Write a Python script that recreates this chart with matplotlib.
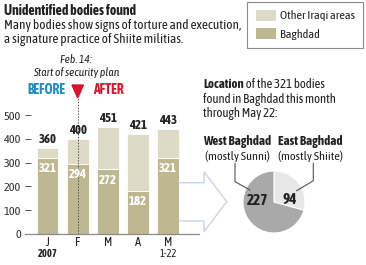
import matplotlib
matplotlib.use("Agg")
import matplotlib.pyplot as plt
from matplotlib.patches import Rectangle, Polygon
from matplotlib.lines import Line2D

plt.rcParams['font.family'] = ['Asap Condensed', 'DejaVu Sans']

# ---- data ----
months = ['J', 'F', 'M', 'A', 'M']
month_sub = ['2007', '', '', '', '1-22']
totals = [360, 400, 451, 421, 443]
baghdad = [321, 294, 272, 182, 321]
other = [t - b for t, b in zip(totals, baghdad)]
pie_labels = ['East Baghdad', 'West Baghdad']
pie_values = [94, 227]

C_BAG = '#bdb890'
C_OTH = '#dddac5'
C_PIE_DARK = '#a9a9a9'
C_PIE_LIGHT = '#e7e7e7'
C_TXT = '#222222'
C_BLUE = '#1b8dc4'
C_RED = '#d7152e'

W, H = 366, 265
fig = plt.figure(figsize=(W / 100, H / 100), dpi=100)


def fx(x):
    return x / W


def fy(y):
    return 1 - y / H


def ftext(x, y, s, **kw):
    kw.setdefault('color', C_TXT)
    kw.setdefault('va', 'center')
    return fig.text(fx(x), fy(y), s, **kw)


# ---- bar axes ----
px_per_unit = 23.8 / 100.0
y0_px = 234.0
ytop = 580
left_px, right_px = 25.0, 198.7
ax = fig.add_axes([fx(left_px), fy(y0_px), (right_px - left_px) / W,
                   ytop * px_per_unit / H])
ax.set_xlim(-0.75, 5.02)
ax.set_ylim(0, ytop)
xs = list(range(len(months)))
bw = 0.72
ax.bar(xs, baghdad, width=bw, color=C_BAG, edgecolor='white', linewidth=0.6, zorder=2)
ax.bar(xs, other, bottom=baghdad, width=bw, color=C_OTH, edgecolor='white',
       linewidth=0.6, zorder=2)
for x, t, b in zip(xs, totals, baghdad):
    ax.annotate(str(t), (x, t), xytext=(0, 6), textcoords='offset points',
                ha='center', va='center', fontsize=9.2, fontweight='bold', color=C_TXT,
                zorder=5)
    ax.annotate(str(b), (x, b), xytext=(0, -7.8), textcoords='offset points',
                ha='center', va='center', fontsize=9.2, fontweight='bold', color='white',
                zorder=5)

for s in ['top', 'right', 'left']:
    ax.spines[s].set_visible(False)
ax.spines['bottom'].set_color('#8a8a8a')
ax.spines['bottom'].set_linewidth(0.9)
ax.set_yticks([0, 100, 200, 300, 400, 500])
ax.tick_params(axis='y', direction='in', length=4, width=0.7, color='#555555',
               labelsize=8.8, labelcolor='#333333', pad=3)
ax.set_xticks(xs)
ax.set_xticklabels(months)
ax.tick_params(axis='x', length=0, labelsize=9, labelcolor=C_TXT, pad=1.5)
ax.patch.set_alpha(0)

for x, s in zip(xs, month_sub):
    if s:
        ax.annotate(s, (x, 0), xytext=(0, -14.2), textcoords='offset points',
                    ha='center', va='center', fontsize=7.6,
                    fontweight='bold' if s == '2007' else 'normal', color=C_TXT)

# security plan marker at F
ax.plot([1, 1], [0, 574], linestyle=(0, (1.5, 1.5)), color='#555555',
        linewidth=0.7, zorder=2.5, clip_on=False)
tri = Polygon([[1 - 0.19, 626], [1 + 0.19, 626], [1, 572]], closed=True,
              color=C_RED, clip_on=False, zorder=4)
ax.add_patch(tri)

ftext(76, 59.5, 'Feb. 14:', ha='center', fontsize=8.3, style='italic')
ftext(76, 72.5, 'Start of security plan', ha='center', fontsize=8.3, style='italic')
ftext(46.5, 90.5, 'BEFORE', ha='center', fontsize=9.8, fontweight='bold', color=C_BLUE)
ftext(108.5, 90.5, 'AFTER', ha='center', fontsize=9.8, fontweight='bold', color=C_RED)

# ---- title ----
ftext(4, 11, 'Unidentified bodies found', ha='left', fontsize=10, fontweight='bold')
ftext(4, 26, 'Many bodies show signs of torture and execution,', ha='left', fontsize=9.5)
ftext(4, 39.5, 'a signature practice of Shiite militias.', ha='left', fontsize=9.5)

# ---- legend ----
fig.add_artist(Rectangle((fx(247.3), fy(48.3)), (363 - 247.3) / W, (48.3 - 1.7) / H,
                         transform=fig.transFigure, fill=False, edgecolor='#8a8a8a',
                         linewidth=0.8))
fig.add_artist(Rectangle((fx(256), fy(20.7)), 20 / W, 10.7 / H,
                         transform=fig.transFigure, color=C_OTH, linewidth=0))
fig.add_artist(Rectangle((fx(256), fy(39)), 20 / W, 11 / H,
                         transform=fig.transFigure, color=C_BAG, linewidth=0))
ftext(280, 15.7, 'Other Iraqi areas', ha='left', fontsize=8.8)
ftext(280, 34, 'Baghdad', ha='left', fontsize=8.8)

# ---- arrow ----
arrow_pts = [(179, 182.7), (204, 182.7), (204, 171.7), (226.7, 201.7),
             (204, 231.7), (204, 221), (179, 221)]
fig.add_artist(Line2D([fx(p[0]) for p in arrow_pts], [fy(p[1]) for p in arrow_pts],
                      transform=fig.transFigure, color='#cbd5df', linewidth=1.0,
                      zorder=0.5))

# ---- location text ----
renderer = fig.canvas.get_renderer()
t1 = ftext(203.3, 85, 'Location', ha='left', fontsize=9.2, fontweight='bold')
bb = t1.get_window_extent(renderer)
fig.text(bb.x1 / fig.bbox.width, fy(85), ' of the 321 bodies', ha='left', va='center',
         fontsize=9.2, color=C_TXT)
ftext(203.3, 99.3, 'found in Baghdad this month', ha='left', fontsize=9.2)
ftext(203.3, 113.3, 'through May 22:', ha='left', fontsize=9.2)

ftext(237, 142, pie_labels[1], ha='center', fontsize=9.4, fontweight='bold')
ftext(237, 156.7, '(mostly Sunni)', ha='center', fontsize=8.9)
ftext(310, 142, pie_labels[0], ha='center', fontsize=9.4, fontweight='bold')
ftext(310, 156.7, '(mostly Shiite)', ha='center', fontsize=8.9)

for pts in ([(235, 163.3), (235, 181.7), (250, 190)],
            [(313.3, 163.3), (313.3, 180.7), (296.7, 190.7)]):
    fig.add_artist(Line2D([fx(p[0]) for p in pts], [fy(p[1]) for p in pts],
                          transform=fig.transFigure, color='#555555', linewidth=0.8,
                          zorder=5))

# ---- pie ----
cx, cy, r = 274, 202, 31
pax = fig.add_axes([fx(cx - r), fy(cy + r), 2 * r / W, 2 * r / H])
pax.pie(pie_values, colors=[C_PIE_LIGHT, C_PIE_DARK], startangle=90, counterclock=False,
        radius=1, wedgeprops=dict(edgecolor='white', linewidth=0.8))
pax.set_xlim(-1, 1)
pax.set_ylim(-1, 1)
pax.set_aspect('auto')
pax.axis('off')
ftext(258, 201, str(pie_values[1]), ha='center', fontsize=11, fontweight='bold', zorder=6)
ftext(290, 200, str(pie_values[0]), ha='center', fontsize=11, fontweight='bold', zorder=6)

fig.savefig('out.png', dpi=100)
